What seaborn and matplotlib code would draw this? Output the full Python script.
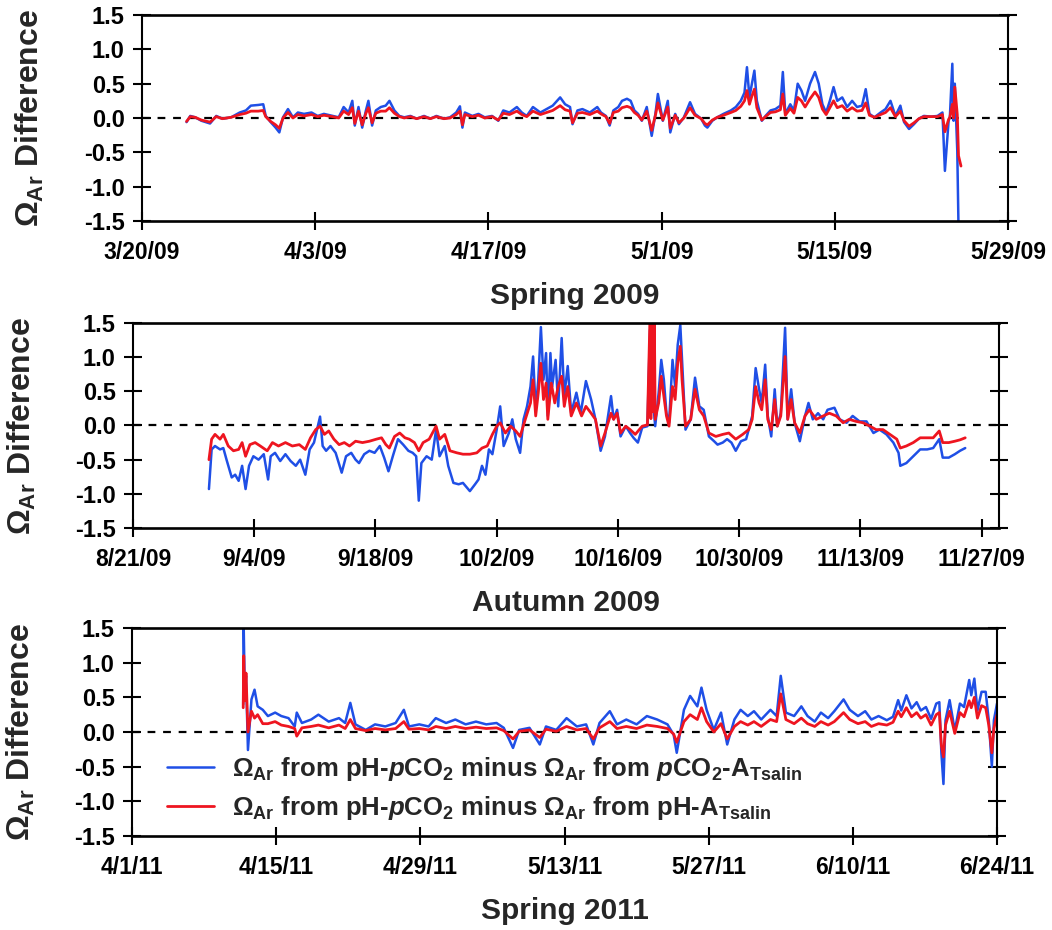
import numpy as np
import pandas as pd
import matplotlib
matplotlib.use("Agg")
import matplotlib.pyplot as plt
import seaborn as sns
from matplotlib import font_manager as fm

# ---------------- data (days after the first date of each panel) ----------------
p1_start = "2009-03-20"
p1_day = [3.6, 3.9, 4.3, 4.8, 5.5, 6.0, 6.5, 7.2, 7.9, 8.4, 8.8, 9.4, 9.8, 10.0, 10.4,
          10.8, 11.1, 11.4, 11.8, 12.2, 12.6, 13.1, 13.7, 14.2, 14.7, 15.4, 15.9, 16.3, 16.7, 17.0,
          17.2, 17.5, 17.8, 18.1, 18.3, 18.6, 18.9, 19.3, 19.7, 20.0, 20.4, 20.8, 21.2, 21.7, 22.2,
          22.8, 23.3, 23.8, 24.4, 24.9, 25.4, 25.7, 25.9, 26.1, 26.7, 27.2, 27.7, 28.3, 28.8, 29.2,
          29.7, 30.3, 30.7, 31.1, 31.6, 32.2, 32.7, 33.2, 33.8, 34.2, 34.6, 34.8, 35.2, 35.6, 36.2,
          36.8,
          37.1, 37.5, 37.8, 38.1, 38.5, 38.8, 39.2, 39.5, 39.8, 40.1, 40.4, 40.8, 41.2, 41.5, 41.7,
          42.1, 42.5, 42.7, 43.1, 43.4, 43.8, 44.3, 44.7, 45.2, 45.5, 45.7, 46.1, 46.5, 47.0, 47.6,
          48.0, 48.4, 48.7, 48.9, 49.1, 49.3, 49.5, 49.7, 50.1, 50.4, 50.8, 51.2, 51.6, 51.8, 52.0,
          52.4, 52.7, 53.0, 53.3, 53.6, 54.0, 54.4, 54.7, 55.0, 55.3, 55.6, 55.9, 56.2, 56.6, 57.0,
          57.4, 57.8, 58.2, 58.5, 58.8, 59.2, 59.7, 60.1, 60.5, 60.9, 61.3, 61.6, 62.0, 62.4, 62.8,
          63.2, 63.8, 64.3, 64.7, 64.9, 65.2, 65.3, 65.5, 65.6, 65.7, 65.9, 66.0, 66.2]
p1_blue = [-0.06, 0.03, 0.01, -0.04, -0.08, 0.03, -0.01, 0.01, 0.08, 0.11, 0.18, 0.19, 0.20, 0.03, -0.06,
           -0.14, -0.21, 0.01, 0.13, 0.01, 0.08, 0.06, 0.08, 0.03, 0.06, 0.03, 0.01, 0.16, 0.08, 0.25,
           -0.11, 0.16, -0.14, 0.11, 0.25, -0.11, 0.11, 0.16, 0.18, 0.25, 0.11, 0.03, 0.01, 0.03, -0.01,
           0.03, -0.01, 0.03, -0.01, 0.01, 0.08, 0.17, -0.14, 0.08, 0.03, 0.06, 0.01, 0.03, -0.04, 0.11,
           0.08, 0.16, 0.08, 0.03, 0.16, 0.08, 0.13, 0.18, 0.30, 0.20, 0.16, -0.09, 0.11, 0.13, 0.08,
           0.16,
           0.08, 0.03, -0.11, 0.11, 0.16, 0.25, 0.28, 0.25, 0.11, 0.06, -0.04, 0.16, -0.26, 0.06, 0.35,
           -0.04, 0.25, -0.21, 0.06, -0.09, 0.01, 0.23, 0.06, -0.01, -0.11, -0.14, -0.04, 0.01, 0.06, 0.11,
           0.16, 0.25, 0.37, 0.74, 0.30, 0.50, 0.69, 0.25, -0.04, 0.03, 0.11, 0.13, 0.18, 0.67, 0.06,
           0.20, 0.11, 0.50, 0.40, 0.25, 0.50, 0.67, 0.50, 0.20, 0.08, 0.25, 0.45, 0.25, 0.30, 0.16,
           0.25, 0.16, 0.18, 0.42, 0.06, 0.01, 0.08, 0.13, 0.25, 0.03, 0.18, -0.06, -0.16, -0.09, -0.01,
           0.03, 0.02, 0.03, 0.08, -0.77, -0.04, 0.01, 0.79, -0.04, 0.50, -0.48, -1.60, -1.60]
p1_red = [-0.05, 0.02, 0.01, -0.03, -0.06, 0.02, -0.01, 0.01, 0.05, 0.07, 0.10, 0.10, 0.11, 0.02, -0.05,
          -0.10, -0.15, 0.00, 0.08, 0.00, 0.05, 0.03, 0.05, 0.02, 0.04, 0.02, 0.00, 0.10, 0.05, 0.15,
          -0.08, 0.10, -0.10, 0.07, 0.15, -0.07, 0.07, 0.10, 0.10, 0.15, 0.07, 0.02, 0.00, 0.02, -0.01,
          0.02, -0.01, 0.02, -0.01, 0.00, 0.05, 0.10, -0.10, 0.05, 0.02, 0.04, 0.00, 0.02, -0.03, 0.07,
          0.05, 0.10, 0.05, 0.02, 0.10, 0.05, 0.08, 0.11, 0.18, 0.12, 0.10, -0.07, 0.07, 0.08, 0.05,
          0.10,
          0.06, 0.02, -0.08, 0.08, 0.10, 0.15, 0.17, 0.15, 0.08, 0.04, -0.03, 0.10, -0.18, 0.04, 0.22,
          -0.03, 0.16, -0.15, 0.04, -0.07, 0.00, 0.15, 0.04, -0.01, -0.08, -0.10, -0.03, 0.01, 0.04, 0.08,
          0.11, 0.17, 0.25, 0.40, 0.20, 0.32, 0.42, 0.15, -0.03, 0.02, 0.08, 0.09, 0.12, 0.35, 0.04,
          0.14, 0.07, 0.30, 0.25, 0.16, 0.28, 0.38, 0.30, 0.13, 0.05, 0.15, 0.25, 0.15, 0.18, 0.10,
          0.15, 0.10, 0.11, 0.22, 0.04, 0.01, 0.05, 0.08, 0.15, 0.02, 0.10, -0.04, -0.12, -0.07, -0.01,
          0.02, 0.02, 0.02, 0.05, -0.20, -0.02, 0.01, 0.20, 0.00, 0.45, 0.05, -0.55, -0.70]

p2_start = "2009-08-21"
p2_blue_day = [8.77, 9.08, 9.47, 10.05, 10.43, 10.8, 11.4, 11.8, 12.2, 12.6, 13.0, 13.4, 13.9, 14.5, 15.1,
               15.6, 15.9, 16.4, 17.0, 17.6, 18.2, 18.8, 19.3, 19.9, 20.4, 20.9, 21.6, 21.9, 22.3, 22.8,
               23.4, 24.1, 24.6, 25.2, 25.7, 26.1, 26.7, 27.3, 27.9, 28.5, 29.0, 29.5, 30.0, 30.6, 31.2,
               31.8, 32.3, 32.7, 33.0, 33.3, 33.9, 34.5, 35.0, 35.4, 36.0, 36.4, 37.0, 37.6, 38.1, 38.9,
               39.5, 39.9, 40.3, 40.7, 41.1, 41.5, 42.0, 42.4, 42.8, 43.4, 43.8, 44.2, 44.7, 45.1, 45.5,
               45.9, 46.2, 46.5, 46.8, 47.1, 47.4, 47.7, 47.9, 48.2, 48.4, 48.8, 49.1, 49.5, 49.8, 50.2,
               50.6, 51.2, 51.7, 52.3, 52.9, 53.4, 54.0, 54.5, 55.2,
               55.5, 55.9, 56.3, 56.9, 57.4, 57.8, 58.3, 58.8, 59.4, 59.7, 59.9, 60.3, 60.7, 61.0, 61.3,
               61.6, 61.9, 62.3, 62.6, 62.9, 63.2, 63.4, 63.8, 64.4, 64.9, 65.4, 65.9, 66.5, 67.1, 67.5,
               68.1, 68.6, 69.1, 69.6, 70.2, 70.8, 71.2, 71.5, 71.9, 72.3, 72.6, 73.0, 73.3, 73.7, 74.1,
               74.4, 74.8, 75.3, 75.6, 76.0, 76.4, 77.0, 77.6, 78.0, 78.5, 79.1, 79.7, 80.2, 81.0, 81.6,
               82.4, 83.1, 83.9, 84.7, 85.5, 86.2, 87.0, 87.8, 88.4, 88.6, 89.3, 90.1, 90.9, 91.7, 92.4,
               93.1, 93.5, 94.2, 94.9, 95.5, 96.1]
p2_blue = [-0.93, -0.35, -0.30, -0.35, -0.33, -0.50, -0.76, -0.72, -0.81, -0.59, -0.93, -0.59, -0.45, -0.50, -0.42,
           -0.79, -0.45, -0.40, -0.52, -0.42, -0.52, -0.59, -0.50, -0.72, -0.35, -0.25, 0.13, -0.30, -0.37, -0.30,
           -0.40, -0.69, -0.45, -0.40, -0.50, -0.55, -0.42, -0.37, -0.40, -0.30, -0.47, -0.67, -0.45, -0.20, -0.28,
           -0.37, -0.40, -0.45, -1.10, -0.55, -0.45, -0.50, -0.06, -0.45, -0.30, -0.59, -0.84, -0.86, -0.84, -0.96,
           -0.86, -0.79, -0.59, -0.72, -0.35, -0.42, -0.06, 0.28, -0.30, -0.11, 0.09, -0.20, -0.40, 0.09, 0.28,
           0.57, 1.01, 0.23, 0.67, 1.44, 0.67, 1.06, 0.14, 1.06, 0.57, 0.96, 0.28, 1.28, 0.43, 0.87,
           0.18, 0.48, 0.18, 0.65, 0.38, 0.09, -0.37, -0.16, 0.43,
           0.09, 0.23, -0.16, -0.01, -0.11, -0.18, -0.25, -0.03, -0.01, 1.40, 0.57, -0.01, 0.48, 0.96, 0.67,
           0.18, 0.04, 0.96, 0.57, 1.18, 1.47, 0.96, -0.06, 0.09, 0.70, 0.28, 0.23, -0.16, -0.23, -0.28,
           -0.25, -0.20, -0.25, -0.37, -0.23, -0.20, -0.01, 0.14, 0.84, 0.53, 0.33, 0.89, 0.14, -0.16, 0.53,
           -0.01, 0.18, 1.43, 0.09, 0.53, 0.04, -0.23, 0.14, 0.33, 0.09, 0.18, 0.09, 0.23, 0.26, 0.09,
           0.04, 0.14, 0.06, 0.06, -0.11, -0.06, -0.13, -0.25, -0.40, -0.59, -0.55, -0.45, -0.35, -0.35, -0.33,
           -0.20, -0.47, -0.47, -0.42, -0.37, -0.33]
p2_red_day = [8.77, 9.08, 9.47, 10.05, 10.43, 11.0, 11.6, 12.2, 12.6, 13.0, 13.5, 14.1, 14.7, 15.5, 16.1,
              16.8, 17.6, 18.4, 19.2, 19.9, 20.5, 21.1, 21.6, 22.1, 22.6, 23.2, 23.8, 24.4, 25.0, 25.7,
              26.5, 27.3, 28.1, 28.7, 29.2, 29.6, 30.2, 30.8, 31.4, 31.9, 32.5, 33.0, 33.5, 34.2, 35.0,
              35.4, 36.0, 36.6, 37.4, 38.1, 38.9, 39.7, 40.3, 40.9, 41.5, 42.0, 42.4, 43.0, 43.6, 44.2,
              44.7, 45.3, 45.9, 46.2, 46.5, 46.8, 47.1, 47.4, 47.7, 47.9, 48.3, 48.7, 49.1, 49.5, 49.8,
              50.2, 50.6, 51.2, 51.8, 52.3, 52.9, 53.4, 54.0, 54.5, 55.2,
              55.5, 55.9, 56.3, 56.9, 57.4, 58.0, 58.8, 59.4, 59.7, 59.8, 59.9, 60.05, 60.2, 60.3, 60.7,
              61.0, 61.3, 61.6, 61.9, 62.3, 62.6, 62.9, 63.2, 63.4, 63.8, 64.4, 64.9, 65.4, 65.9, 66.5,
              67.3, 68.1, 68.8, 69.6, 70.4, 71.1, 71.5, 71.9, 72.3, 72.6, 73.0, 73.3, 73.7, 74.1, 74.4,
              74.8, 75.3, 75.6, 76.0, 76.4, 77.0, 77.6, 78.1, 78.9, 79.7, 80.4, 81.2, 82.0, 82.7, 83.5,
              84.3, 85.1, 85.8, 86.6, 87.4, 88.2, 88.6, 89.3, 90.1, 90.9, 91.7, 92.4, 93.1, 93.5, 94.2,
              94.9, 95.5, 96.1]
p2_red = [-0.50, -0.20, -0.13, -0.20, -0.13, -0.30, -0.37, -0.35, -0.25, -0.45, -0.28, -0.25, -0.30, -0.37, -0.25,
          -0.30, -0.25, -0.30, -0.28, -0.35, -0.18, -0.06, -0.01, -0.13, -0.08, -0.20, -0.28, -0.25, -0.30, -0.23,
          -0.25, -0.23, -0.20, -0.18, -0.28, -0.33, -0.16, -0.11, -0.18, -0.20, -0.25, -0.37, -0.25, -0.20, -0.01,
          -0.20, -0.13, -0.37, -0.40, -0.42, -0.42, -0.40, -0.33, -0.30, -0.13, -0.01, 0.04, -0.11, -0.01, -0.08,
          -0.16, 0.09, 0.33, 0.67, 0.14, 0.48, 0.91, 0.38, 0.62, 0.09, 0.62, 0.33, 0.57, 0.72, 0.28,
          0.57, 0.14, 0.33, 0.14, 0.28, 0.18, 0.09, -0.30, -0.11, 0.18,
          0.09, 0.18, -0.11, -0.01, -0.06, -0.13, -0.01, 0.01, 1.60, 0.10, 1.60, 0.20, 1.60, 0.09, 0.33,
          0.72, 0.43, 0.14, -0.01, 0.57, 0.38, 0.91, 1.16, 0.67, -0.01, 0.09, 0.53, 0.23, 0.14, -0.11,
          -0.16, -0.13, -0.11, -0.20, -0.13, -0.06, 0.09, 0.57, 0.33, 0.23, 0.67, 0.09, -0.06, 0.38, -0.01,
          0.14, 1.01, 0.09, 0.38, 0.04, -0.11, 0.14, 0.23, 0.09, 0.14, 0.18, 0.14, 0.04, 0.09, 0.06,
          0.04, -0.01, -0.06, -0.06, -0.13, -0.20, -0.33, -0.30, -0.25, -0.18, -0.18, -0.18, -0.08, -0.25, -0.25,
          -0.23, -0.21, -0.18]

p3_start = "2011-04-01"
p3_day = [10.8, 10.85, 10.95, 11.07, 11.26, 11.6, 11.9, 12.2, 12.7, 13.2, 13.9, 14.5, 15.2, 15.8, 16.0,
          16.5, 17.4, 18.1, 19.1, 20.1, 20.7, 21.2, 21.7, 22.7, 23.6, 24.6, 25.6, 26.4, 26.9, 27.9,
          28.8, 29.5, 30.5, 31.4, 32.4, 33.4, 34.4, 35.4, 36.1, 37.0, 37.6, 38.6, 39.6, 40.2, 41.2,
          42.2, 43.2, 44.1, 44.8, 45.4, 46.4, 47.1, 48.0, 49.0, 50.0, 51.0, 52.0, 52.6, 52.9, 53.6,
          54.2, 54.9, 55.3, 55.8, 56.5, 57.2, 57.8, 58.5, 59.1, 59.8, 60.4, 61.1, 62.0, 62.6, 63.0,
          63.5, 64.3, 65.0, 65.6, 66.3, 66.9, 67.6, 68.2, 69.1, 69.7, 70.5, 71.2, 71.8, 72.5, 73.3,
          73.9, 74.4, 74.7, 75.2, 75.7, 76.2, 76.6, 77.1, 77.6, 78.1, 78.4, 78.6, 78.8, 79.0, 79.4,
          79.9, 80.4, 80.8, 81.3, 81.5, 81.8, 82.1, 82.5, 82.9, 83.2, 83.5, 83.7, 84.0]
p3_blue = [0.40, 1.49, 0.60, 0.81, -0.26, 0.47, 0.61, 0.37, 0.32, 0.23, 0.28, 0.23, 0.20, 0.08, 0.28,
           0.13, 0.18, 0.25, 0.15, 0.20, 0.13, 0.42, 0.11, 0.03, 0.11, 0.08, 0.13, 0.32, 0.08, 0.11,
           0.08, 0.20, 0.13, 0.18, 0.11, 0.15, 0.11, 0.13, 0.06, -0.23, 0.03, 0.06, -0.18, 0.08, 0.03,
           0.20, 0.08, 0.11, -0.18, 0.13, 0.30, 0.11, 0.18, 0.11, 0.23, 0.18, 0.11, -0.04, -0.30, 0.32,
           0.52, 0.37, 0.64, 0.32, 0.03, 0.28, -0.18, 0.18, 0.32, 0.23, 0.30, 0.18, 0.32, 0.23, 0.81,
           0.28, 0.23, 0.37, 0.23, 0.15, 0.28, 0.20, 0.30, 0.47, 0.32, 0.23, 0.30, 0.18, 0.23, 0.17,
           0.22, 0.46, 0.31, 0.53, 0.34, 0.43, 0.31, 0.36, 0.19, 0.41, 0.43, -0.31, -0.75, 0.17, 0.46,
           0.02, 0.41, 0.36, 0.75, 0.53, 0.77, 0.31, 0.58, 0.58, 0.17, -0.50, 0.17, 0.41]
p3_red = [0.35, 1.10, 0.45, 0.85, 0.00, 0.30, 0.20, 0.25, 0.12, 0.12, 0.15, 0.10, 0.08, 0.05, -0.06,
          0.06, 0.08, 0.10, 0.06, 0.10, 0.05, 0.18, 0.05, 0.02, 0.05, 0.03, 0.05, 0.15, 0.04, 0.05,
          0.03, 0.08, 0.05, 0.08, 0.05, 0.07, 0.05, 0.06, 0.02, -0.10, 0.01, 0.03, -0.08, 0.04, 0.01,
          0.08, 0.03, 0.05, -0.10, 0.06, 0.15, 0.05, 0.08, 0.05, 0.10, 0.08, 0.05, -0.03, -0.15, 0.15,
          0.25, 0.18, 0.35, 0.15, 0.00, 0.12, -0.10, 0.08, 0.15, 0.10, 0.15, 0.08, 0.18, 0.15, 0.55,
          0.18, 0.12, 0.20, 0.12, 0.08, 0.15, 0.10, 0.15, 0.28, 0.18, 0.12, 0.15, 0.08, 0.12, 0.10,
          0.14, 0.30, 0.22, 0.35, 0.22, 0.28, 0.20, 0.25, 0.10, 0.25, 0.28, -0.20, -0.36, 0.10, 0.30,
          -0.02, 0.28, 0.22, 0.45, 0.35, 0.50, 0.20, 0.38, 0.35, 0.10, -0.30, 0.05, 0.25]

p1_ticks = ["2009-03-20", "2009-04-03", "2009-04-17", "2009-05-01", "2009-05-15", "2009-05-29"]
p1_ticklabels = ["3/20/09", "4/3/09", "4/17/09", "5/1/09", "5/15/09", "5/29/09"]
p2_ticks = ["2009-08-21", "2009-09-04", "2009-09-18", "2009-10-02", "2009-10-16", "2009-10-30",
            "2009-11-13", "2009-11-27"]
p2_ticklabels = ["8/21/09", "9/4/09", "9/18/09", "10/2/09", "10/16/09", "10/30/09", "11/13/09", "11/27/09"]
p3_ticks = ["2011-04-01", "2011-04-15", "2011-04-29", "2011-05-13", "2011-05-27", "2011-06-10", "2011-06-24"]
p3_ticklabels = ["4/1/11", "4/15/11", "4/29/11", "5/13/11", "5/27/11", "6/10/11", "6/24/11"]
y_ticks = [-1.5, -1.0, -0.5, 0.0, 0.5, 1.0, 1.5]
y_ticklabels = ["-1.5", "-1.0", "-0.5", "0.0", "0.5", "1.0", "1.5"]
panel_titles = ["Spring 2009", "Autumn 2009", "Spring 2011"]
series_labels = [
    r"$\Omega_{\mathrm{Ar}}$ from pH-$p$CO$_2$ minus $\Omega_{\mathrm{Ar}}$ from $p$CO$_2$-A$_{\mathrm{Tsalin}}$",
    r"$\Omega_{\mathrm{Ar}}$ from pH-$p$CO$_2$ minus $\Omega_{\mathrm{Ar}}$ from pH-A$_{\mathrm{Tsalin}}$",
]
ylabel_text = r"$\Omega_{\mathrm{Ar}}$ Difference"

assert len(p1_day) == len(p1_blue) == len(p1_red)
assert len(p2_blue_day) == len(p2_blue) and len(p2_red_day) == len(p2_red)
assert len(p3_day) == len(p3_blue) == len(p3_red)

# ---------------- style ----------------
sns.set_style("ticks")
names = {f.name for f in fm.fontManager.ttflist}
base = "Liberation Sans" if "Liberation Sans" in names else "DejaVu Sans"
plt.rcParams["font.family"] = [base, "DejaVu Sans"]
plt.rcParams["font.weight"] = "bold"
plt.rcParams["mathtext.fontset"] = "custom"
plt.rcParams["mathtext.rm"] = f"{base}:bold"
plt.rcParams["mathtext.it"] = f"{base}:italic:bold"
plt.rcParams["mathtext.bf"] = f"{base}:bold"

BLUE = "#1f4fe6"
RED = "#ee1520"


def to_dates(start, days):
    return pd.Timestamp(start) + pd.to_timedelta(np.asarray(days, dtype=float), unit="D")


fig = plt.figure(figsize=(10.52, 9.30), dpi=100)
W, H = 1052.0, 930.0
boxes = [(142, 1008, 15, 221), (133, 999, 323, 528), (132, 997, 628, 836)]
axes = [fig.add_axes([l / W, 1 - b / H, (r - l) / W, (b - t) / H]) for (l, r, t, b) in boxes]

panels = [
    dict(start=p1_start, end="2009-05-29", bd=p1_day, bv=p1_blue, rd=p1_day, rv=p1_red,
         ticks=p1_ticks, labels=p1_ticklabels, ylx=30),
    dict(start=p2_start, end="2009-11-29", bd=p2_blue_day, bv=p2_blue, rd=p2_red_day, rv=p2_red,
         ticks=p2_ticks, labels=p2_ticklabels, ylx=22),
    dict(start=p3_start, end="2011-06-24", bd=p3_day, bv=p3_blue, rd=p3_day, rv=p3_red,
         ticks=p3_ticks, labels=p3_ticklabels, ylx=21),
]

for i, (ax, p, box) in enumerate(zip(axes, panels, boxes)):
    last = i == 2
    sns.lineplot(x=to_dates(p["start"], p["bd"]), y=p["bv"], ax=ax, color=BLUE, linewidth=1.8,
                 estimator=None, sort=False, label=series_labels[0] if last else None, legend=False)
    sns.lineplot(x=to_dates(p["start"], p["rd"]), y=p["rv"], ax=ax, color=RED, linewidth=2.0,
                 estimator=None, sort=False, label=series_labels[1] if last else None, legend=False)
    ax.axhline(0, color="black", linestyle=(0, (3.5, 3.5)), linewidth=1.6, zorder=1)
    ax.set_xlim(pd.Timestamp(p["start"]), pd.Timestamp(p["end"]))
    ax.set_ylim(-1.5, 1.5)
    ax.set_yticks(y_ticks)
    ax.set_yticklabels(y_ticklabels, fontsize=17, fontweight="bold")
    ax.set_xticks(pd.to_datetime(p["ticks"]))
    ax.set_xticklabels(p["labels"], fontsize=16.5, fontweight="bold")
    ax.tick_params(axis="x", which="both", bottom=True, top=False, direction="inout",
                   length=13, width=1.5, pad=8, colors="black")
    ax.tick_params(axis="y", which="both", left=True, right=True, labelright=False,
                   direction="inout", length=13, width=1.5, pad=6, colors="black")
    for s in ["top", "bottom"]:
        ax.spines[s].set_linewidth(1.9)
    for s in ["left", "right"]:
        ax.spines[s].set_linewidth(1.5)
    for s in ax.spines.values():
        s.set_color("black")
        s.set_visible(True)
    ax.set_xlabel(panel_titles[i], fontsize=21.5, fontweight="bold", labelpad=13)
    ax.set_ylabel(ylabel_text, fontsize=23, fontweight="bold")
    l, r, t, b = box
    ax.yaxis.set_label_coords((p["ylx"] - l) / (r - l), 0.5)
    ax.yaxis.label.set_verticalalignment("center")
    ax.grid(False)

leg = axes[2].legend(loc="upper left", bbox_to_anchor=(0.04, 0.39), frameon=False,
                     prop={"size": 18.5, "weight": "bold"}, handlelength=1.85, handletextpad=0.7,
                     labelspacing=0.45, borderpad=0, borderaxespad=0)

fig.savefig("out.png", dpi=100)
